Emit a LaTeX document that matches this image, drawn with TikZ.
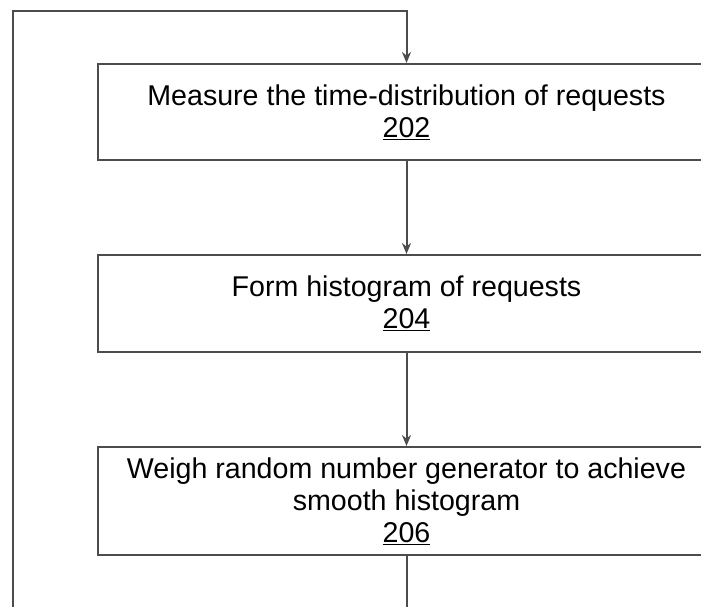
\documentclass[tikz,border=0pt]{standalone}
\usepackage{fontspec}
\setmainfont{Liberation Sans}
\usetikzlibrary{arrows.meta}

\tikzset{
  stepbox/.style={draw=black!70, line width=2pt, inner sep=0pt, minimum width=618pt,
    align=center, font=\fontsize{28.6}{32}\selectfont},
  flow/.style={draw=black!70, line width=2pt, -{Stealth[length=11pt,width=9pt]}}
}

\begin{document}
\begin{tikzpicture}[x=1pt, y=-1pt]
        \useasboundingbox (0, 0) rectangle (701, 607);
        \clip (0, 0) rectangle (701, 607);
        \node[stepbox, minimum height=96pt] (measure) at (406.5, 112) {Measure the time-distribution of requests\\\underline{202}};
        \node[stepbox, minimum height=97pt] (form) at (406.5, 303.5) {Form histogram of requests\\\underline{204}};
        \node[stepbox, minimum height=108pt] (weigh) at (406.5, 501) {Weigh random number generator to achieve\\smooth histogram\\\underline{206}};
        \draw[flow] (measure) -- (form);
        \draw[flow] (form) -- (weigh);
        \draw[flow] (weigh.south) -- ++(0, 80) -| (13, 11) -| (measure.north);
\end{tikzpicture}
\end{document}
